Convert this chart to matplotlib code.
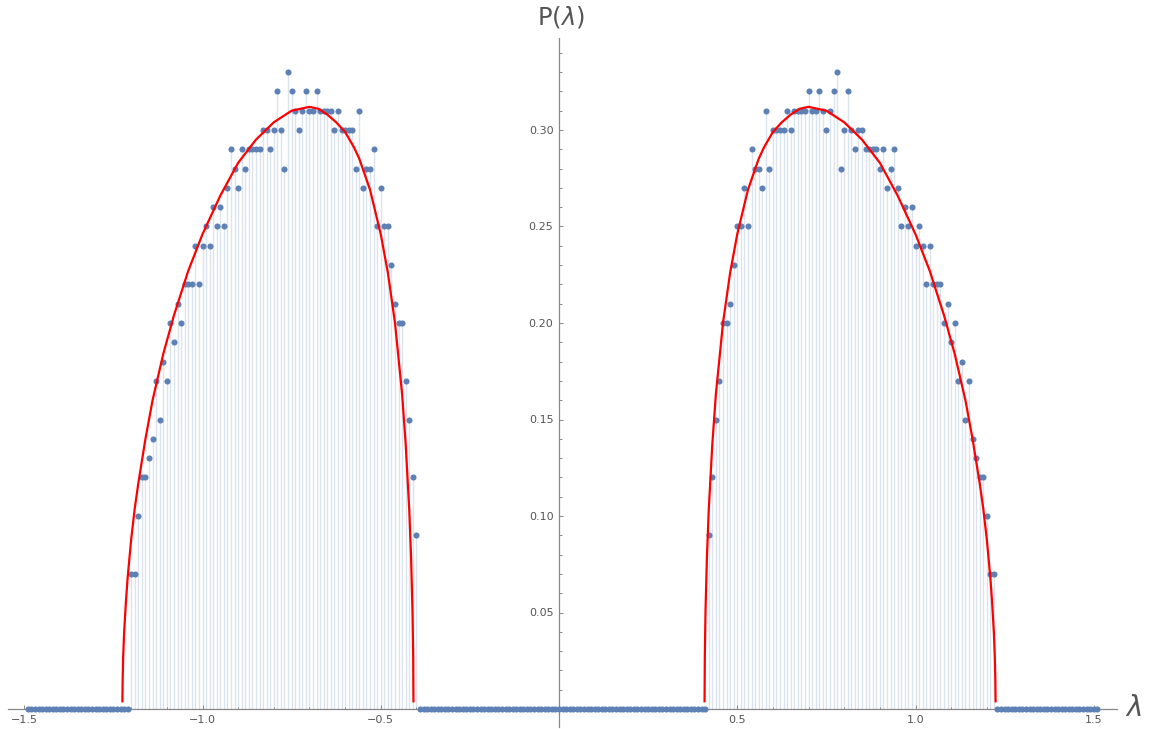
import numpy as np
import matplotlib.pyplot as plt
from matplotlib.ticker import MultipleLocator

# histogram positions (step 0.01) and the two non-empty lobes
lam_grid = np.round(np.arange(-149, 152) * 0.01, 2)

left_start = -1.20
left_counts = [0.07, 0.07, 0.10, 0.12, 0.12, 0.13, 0.14, 0.17, 0.15, 0.18,
               0.17, 0.20, 0.19, 0.21, 0.20, 0.22, 0.22, 0.22, 0.24, 0.22,
               0.24, 0.25, 0.24, 0.26, 0.25, 0.26, 0.25, 0.27, 0.29, 0.28,
               0.27, 0.29, 0.28, 0.29, 0.29, 0.29, 0.29, 0.30, 0.30, 0.29,
               0.30, 0.32, 0.30, 0.28, 0.33, 0.32, 0.31, 0.30, 0.31, 0.32,
               0.31, 0.31, 0.32, 0.31, 0.31, 0.31, 0.31, 0.30, 0.31, 0.30,
               0.30, 0.30, 0.30, 0.28, 0.31, 0.27, 0.28, 0.28, 0.29, 0.25,
               0.27, 0.25, 0.25, 0.23, 0.21, 0.20, 0.20, 0.17, 0.15, 0.12,
               0.09]

right_start = 0.42
right_counts = [0.09, 0.12, 0.15, 0.17, 0.20, 0.20, 0.21, 0.23, 0.25, 0.25,
                0.27, 0.25, 0.29, 0.28, 0.28, 0.27, 0.31, 0.28, 0.30, 0.30,
                0.30, 0.30, 0.31, 0.30, 0.31, 0.31, 0.31, 0.31, 0.32, 0.31,
                0.31, 0.32, 0.31, 0.30, 0.31, 0.32, 0.33, 0.28, 0.30, 0.32,
                0.30, 0.29, 0.30, 0.30, 0.29, 0.29, 0.29, 0.29, 0.28, 0.29,
                0.27, 0.28, 0.29, 0.27, 0.25, 0.26, 0.25, 0.26, 0.24, 0.25,
                0.24, 0.22, 0.24, 0.22, 0.22, 0.22, 0.20, 0.21, 0.19, 0.20,
                0.17, 0.18, 0.15, 0.17, 0.14, 0.13, 0.12, 0.12, 0.10, 0.07,
                0.07]

# red theory curve, read along the lambda > 0 lobe (same shape at lambda < 0)
curve_lam = [0.4083, 0.409, 0.411, 0.415, 0.42, 0.43, 0.44, 0.46, 0.48, 0.50,
             0.53, 0.56, 0.575, 0.60, 0.625, 0.65, 0.675, 0.70, 0.725, 0.75,
             0.80, 0.85, 0.90, 0.95, 1.00, 1.04, 1.08, 1.11, 1.14, 1.16,
             1.18, 1.19, 1.20, 1.21, 1.215, 1.22, 1.2225, 1.224, 1.2247]
curve_p = [0.004, 0.027, 0.051, 0.079, 0.103, 0.137, 0.163, 0.200, 0.226, 0.246,
           0.269, 0.285, 0.291, 0.299, 0.304, 0.308, 0.311, 0.312, 0.311, 0.310,
           0.304, 0.295, 0.283, 0.266, 0.246, 0.227, 0.204, 0.184, 0.160, 0.140,
           0.117, 0.104, 0.088, 0.068, 0.055, 0.039, 0.027, 0.015, 0.004]

x_ticks = [-1.5, -1.0, -0.5, 0.5, 1.0, 1.5]
y_ticks = [0.05, 0.10, 0.15, 0.20, 0.25, 0.30]

p = np.zeros_like(lam_grid)
i0 = int(np.argmin(np.abs(lam_grid - left_start)))
p[i0:i0 + len(left_counts)] = left_counts
i1 = int(np.argmin(np.abs(lam_grid - right_start)))
p[i1:i1 + len(right_counts)] = right_counts

BLUE = "#5E81B5"
AXIS = "#888888"
TXT = "#555555"

W, H = 1150, 729
fig = plt.figure(figsize=(W / 100, H / 100), dpi=100)
xlo, xhi = -1.5456, 1.565
ylo, yhi = -0.0093, 0.3477
px0, sx = 559.0, 356.5          # pixel of lambda=0, pixels per unit
py0, sy = 709.0, 1930.0         # pixel of P=0, pixels per unit
left = (px0 + sx * xlo) / W
width = sx * (xhi - xlo) / W
bottom = (H - (py0 - sy * ylo)) / H
height = sy * (yhi - ylo) / H
ax = fig.add_axes([left, bottom, width, height])
ax.set_xlim(xlo, xhi)
ax.set_ylim(ylo, yhi)

# stems (filling to axis), points, theory curve
ax.vlines(lam_grid, 0, p, color=BLUE, alpha=0.22, lw=1.0, zorder=1)
ax.plot(lam_grid, p, "o", ms=4.4, color=BLUE, mec="none", zorder=3, clip_on=False)
ax.plot(curve_lam, curve_p, color="red", lw=1.6, zorder=4)
ax.plot([-v for v in curve_lam], curve_p, color="red", lw=1.6, zorder=4)

# Mathematica-style axes through the origin
for s in ["top", "right"]:
    ax.spines[s].set_visible(False)
ax.spines["left"].set_position(("data", 0))
ax.spines["bottom"].set_position(("data", 0))
for s in ["left", "bottom"]:
    ax.spines[s].set_color(AXIS)
    ax.spines[s].set_linewidth(0.9)

ax.set_xticks(x_ticks)
ax.set_xticklabels([f"{t:.1f}".replace("-", "\u2212") for t in x_ticks])
ax.xaxis.set_minor_locator(MultipleLocator(0.1))
ax.set_yticks(y_ticks)
ax.set_yticklabels([f"{t:.2f}" for t in y_ticks])
ax.yaxis.set_minor_locator(MultipleLocator(0.01))
ax.tick_params(which="both", direction="in", color=AXIS, width=0.7)
ax.tick_params(which="major", length=3.2, labelsize=8, labelcolor=TXT)
ax.tick_params(which="minor", length=1.8)
ax.tick_params(axis="x", which="major", pad=4)
ax.tick_params(axis="y", which="major", pad=4)

fig.text(561 / W, 1 - 17 / H, r"P($\lambda$)", ha="center", va="center",
         fontsize=17.5, color=TXT)
fig.text(1133 / W, 1 - 708 / H, r"$\lambda$", ha="center", va="center",
         fontsize=20, color=TXT)

fig.savefig("out.png", dpi=100)
